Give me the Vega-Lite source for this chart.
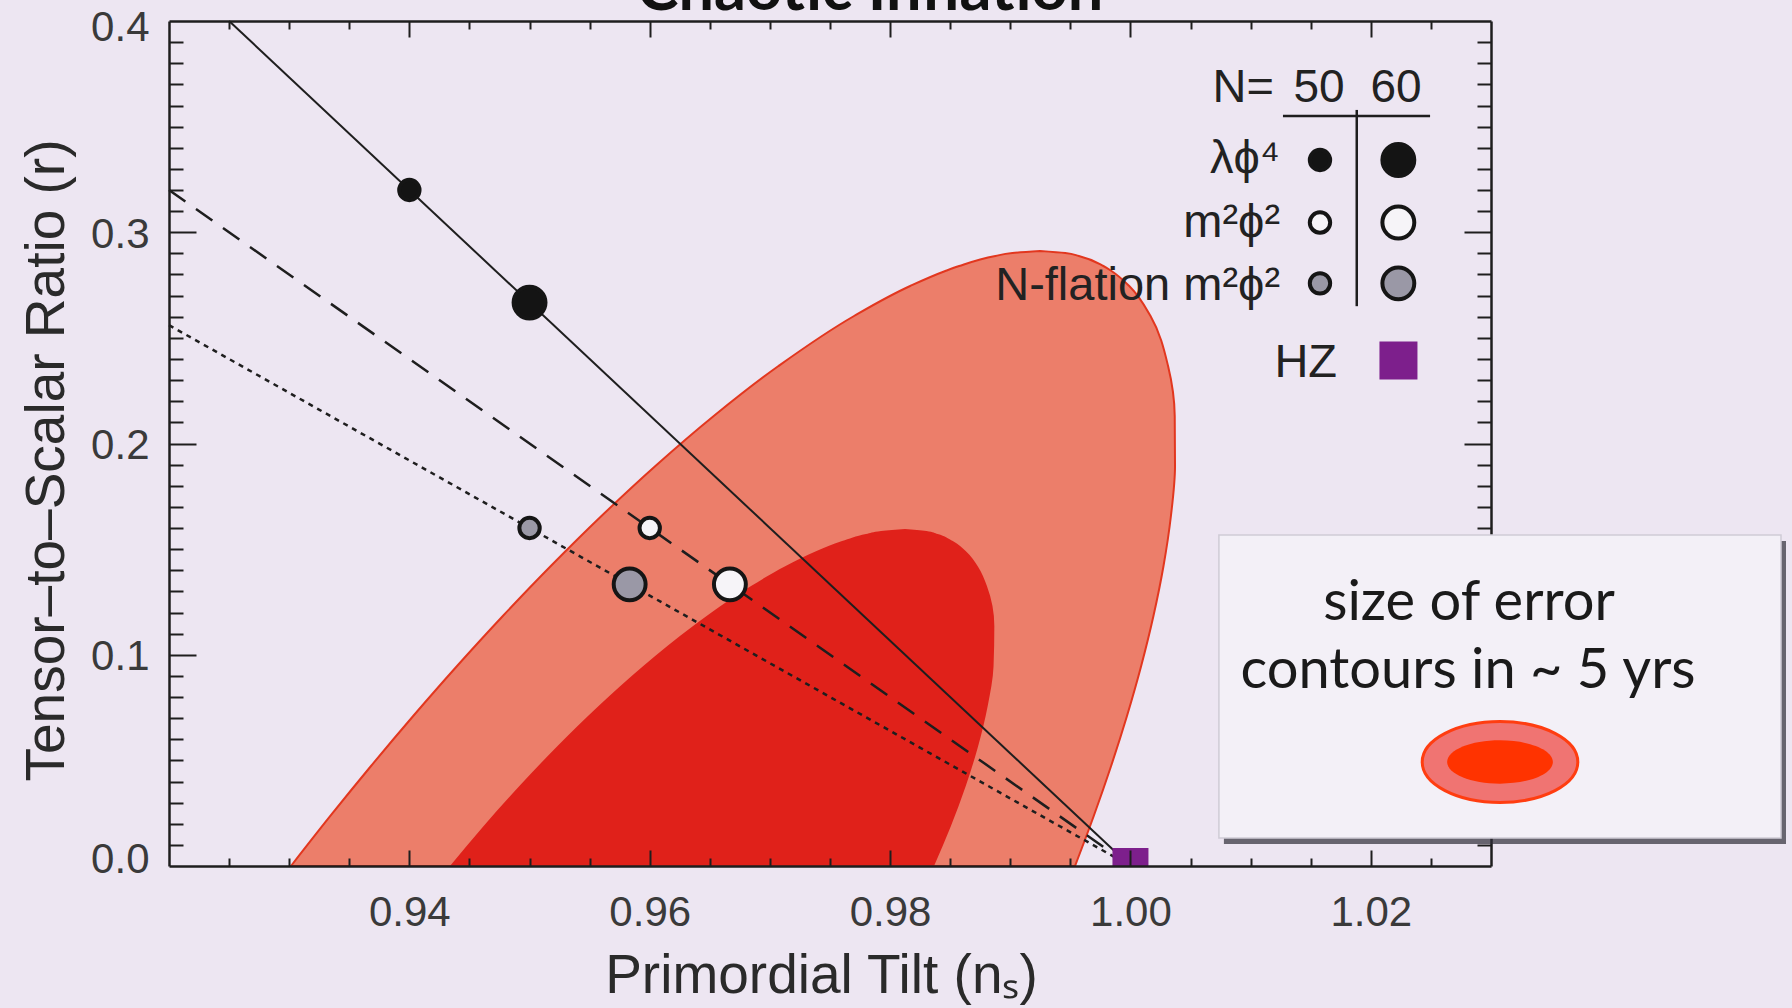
{
  "$schema": "https://vega.github.io/schema/vega-lite/v6.json",
  "width": 1322,
  "height": 845,
  "autosize": {"type": "none"},
  "padding": {"left": 169, "top": 21, "right": 301, "bottom": 142},
  "background": "#EDE6F2",
  "config": {
    "view": {"stroke": null},
    "axis": {"grid": false, "domainColor": "#1e1e1e", "domainWidth": 2.5, "tickColor": "#1e1e1e", "tickWidth": 2, "labelFont": "Liberation Sans", "labelColor": "#3a3a3a", "titleFont": "Liberation Sans", "titleColor": "#2a2a2a", "titleFontWeight": "normal"}
  },
  "datasets": {
    "outer": [
      {"r": 0, "xl": 0.930152, "xr": 0.995387},
      {"r": 0.023669, "xl": 0.933423, "xr": 0.996946},
      {"r": 0.047337, "xl": 0.936809, "xr": 0.99839},
      {"r": 0.071006, "xl": 0.94032, "xr": 0.99971},
      {"r": 0.094675, "xl": 0.943969, "xr": 1.000891},
      {"r": 0.118343, "xl": 0.947778, "xr": 1.001912},
      {"r": 0.142012, "xl": 0.95177, "xr": 1.00275},
      {"r": 0.16568, "xl": 0.955983, "xr": 1.003367},
      {"r": 0.189349, "xl": 0.960472, "xr": 1.003708},
      {"r": 0.213018, "xl": 0.965327, "xr": 1.003684},
      {"r": 0.236686, "xl": 0.970712, "xr": 1.00313},
      {"r": 0.260355, "xl": 0.977002, "xr": 1.00167},
      {"r": 0.274556, "xl": 0.98167, "xr": 0.9999},
      {"r": 0.281657, "xl": 0.984594, "xr": 0.998424},
      {"r": 0.284024, "xl": 0.985754, "xr": 0.997746},
      {"r": 0.288757, "xl": 0.988761, "xr": 0.995707},
      {"r": 0.290178, "xl": 0.990177, "xr": 0.994579},
      {"r": 0.291124, "xl": 0.992475, "xr": 0.992475}
    ],
    "inner": [
      {"r": 0, "xl": 0.943382, "xr": 0.983655},
      {"r": 0.018935, "xl": 0.946181, "xr": 0.985063},
      {"r": 0.03787, "xl": 0.949155, "xr": 0.986297},
      {"r": 0.056804, "xl": 0.952329, "xr": 0.98733},
      {"r": 0.075739, "xl": 0.955744, "xr": 0.988122},
      {"r": 0.094674, "xl": 0.959464, "xr": 0.988609},
      {"r": 0.113609, "xl": 0.963607, "xr": 0.988674},
      {"r": 0.132544, "xl": 0.968433, "xr": 0.988056},
      {"r": 0.142011, "xl": 0.97131, "xr": 0.987281},
      {"r": 0.149112, "xl": 0.973881, "xr": 0.986288},
      {"r": 0.153845, "xl": 0.976006, "xr": 0.985215},
      {"r": 0.157159, "xl": 0.977997, "xr": 0.983961},
      {"r": 0.158579, "xl": 0.979248, "xr": 0.983025},
      {"r": 0.159526, "xl": 0.981242, "xr": 0.981242}
    ],
    "lines": [
      {"model": "lphi4", "ns": 0.925, "r": 0.4},
      {"model": "lphi4", "ns": 1.0, "r": 0.0},
      {"model": "m2phi2", "ns": 0.92, "r": 0.32},
      {"model": "m2phi2", "ns": 1.0, "r": 0.0},
      {"model": "nflation", "ns": 0.92, "r": 0.256},
      {"model": "nflation", "ns": 1.0, "r": 0.0}
    ],
    "points": [
      {"model": "lphi4", "N": "50", "ns": 0.94, "r": 0.32},
      {"model": "lphi4", "N": "60", "ns": 0.95, "r": 0.2667},
      {"model": "m2phi2", "N": "50", "ns": 0.96, "r": 0.16},
      {"model": "m2phi2", "N": "60", "ns": 0.96667, "r": 0.13333},
      {"model": "nflation", "N": "50", "ns": 0.95, "r": 0.16},
      {"model": "nflation", "N": "60", "ns": 0.95833, "r": 0.13333}
    ],
    "hz": [{"ns": 1.0, "r": 0.0}],
    "legendMarkers": [
      {"model": "lphi4", "N": "50", "ns": 1.01577, "r": 0.3342},
      {"model": "lphi4", "N": "60", "ns": 1.02229, "r": 0.3342},
      {"model": "m2phi2", "N": "50", "ns": 1.01577, "r": 0.3046},
      {"model": "m2phi2", "N": "60", "ns": 1.02229, "r": 0.3046},
      {"model": "nflation", "N": "50", "ns": 1.01577, "r": 0.2758},
      {"model": "nflation", "N": "60", "ns": 1.02229, "r": 0.2758}
    ],
    "legendHZ": [{"ns": 1.0223, "r": 0.23929}],
    "legendRules": [
      {"ns": 1.01269, "ns2": 1.02493, "r": 0.35503, "r2": 0.35503},
      {"ns": 1.01883, "ns2": 1.01883, "r": 0.3579, "r2": 0.265}
    ],
    "legendRowLabels": [
      {"label": "λϕ⁴", "ns": 1.01245, "r": 0.3279},
      {"label": "m²ϕ²", "ns": 1.01245, "r": 0.2979},
      {"label": "N-flation m²ϕ²", "ns": 1.01245, "r": 0.26793},
      {"label": "HZ", "ns": 1.01719, "r": 0.23162},
      {"label": "N=", "ns": 1.011945, "r": 0.3618}
    ],
    "legendHeader": [
      {"label": "50", "ns": 1.01569, "r": 0.3618},
      {"label": "60", "ns": 1.0221, "r": 0.3618}
    ],
    "titleText": [{"label": "Chaotic Inflation", "ns": 0.97833, "r": 0.4052}],
    "insetBox": [{"ns": 1.00736, "ns2": 1.05413, "r": 0.15669, "r2": 0.01325}],
    "insetText": [
      {"label": "size of error", "ns": 1.02817, "r": 0.11645},
      {"label": "contours in ~ 5 yrs", "ns": 1.02809, "r": 0.08426}
    ],
    "insetIcon": [{"ns": 1.03075, "r": 0.04923}]
  },
  "resolve": {"axis": {"x": "independent", "y": "independent"}},
  "layer": [
    {
      "data": {"name": "outer"},
      "mark": {"type": "area", "orient": "horizontal", "interpolate": "monotone", "fill": "#EC7E6A", "fillOpacity": 1, "stroke": "#E2371F", "strokeWidth": 2},
      "encoding": {
        "y": {"field": "r", "type": "quantitative", "scale": {"domain": [0, 0.4], "nice": false, "zero": false},
          "axis": {"orient": "left", "values": [0, 0.1, 0.2, 0.3, 0.4], "format": ".1f", "ticks": false, "domain": true, "labelFontSize": 42, "labelPadding": 20, "labelBaseline": "middle", "labelOverlap": false, "labelFlush": false,
            "labelOffset": {"condition": [{"test": "datum.value < 0.01", "value": -7}, {"test": "datum.value > 0.39", "value": 6}], "value": 2},
            "title": "Tensor–to–Scalar Ratio (r)", "titleFontSize": 55, "titleX": -123, "titleY": 439, "titleAngle": -90, "titleAlign": "center", "titleBaseline": "middle", "zindex": 1}},
        "x": {"field": "xl", "type": "quantitative", "scale": {"domain": [0.92, 1.03], "nice": false, "zero": false},
          "axis": {"orient": "bottom", "values": [0.94, 0.96, 0.98, 1.0, 1.02], "format": ".2f", "ticks": false, "domain": true, "labelFontSize": 42, "labelBaseline": "top", "labelPadding": 26, "labelOverlap": false, "labelFlush": false,
            "title": "Primordial Tilt (nₛ)", "titleFontSize": 55, "titleX": 652, "titleY": 126, "titleAlign": "center", "titleBaseline": "alphabetic", "zindex": 1}},
        "x2": {"field": "xr"}
      }
    },
    {
      "data": {"name": "inner"},
      "mark": {"type": "area", "orient": "horizontal", "interpolate": "monotone", "fill": "#E0211A", "fillOpacity": 1},
      "encoding": {
        "y": {"field": "r", "type": "quantitative", "scale": {"domain": [0, 0.4], "nice": false, "zero": false},
          "axis": {"orient": "left", "values": [0.1, 0.2, 0.3], "labels": false, "domain": false, "ticks": true, "tickSize": -27, "title": null, "zindex": 1}},
        "x": {"field": "xl", "type": "quantitative", "scale": {"domain": [0.92, 1.03], "nice": false, "zero": false},
          "axis": {"orient": "bottom", "values": [0.94, 0.96, 0.98, 1.0, 1.02], "labels": false, "domain": false, "ticks": true, "tickSize": -16, "title": null, "zindex": 1}},
        "x2": {"field": "xr"}
      }
    },
    {
      "data": {"name": "lines"},
      "transform": [{"filter": "datum.model === 'lphi4'"}],
      "mark": {"type": "line", "color": "#1e1e1e", "strokeWidth": 2},
      "encoding": {
        "x": {"field": "ns", "type": "quantitative", "scale": {"domain": [0.92, 1.03], "nice": false, "zero": false},
          "axis": {"orient": "bottom", "values": [0.925, 0.93, 0.935, 0.945, 0.95, 0.955, 0.965, 0.97, 0.975, 0.985, 0.99, 0.995, 1.005, 1.01, 1.015, 1.025], "labels": false, "domain": false, "ticks": true, "tickSize": -8, "title": null, "zindex": 1}},
        "y": {"field": "r", "type": "quantitative", "scale": {"domain": [0, 0.4], "nice": false, "zero": false},
          "axis": {"orient": "left", "values": [0.01, 0.02, 0.03, 0.04, 0.05, 0.06, 0.07, 0.08, 0.09, 0.11, 0.12, 0.13, 0.14, 0.15, 0.16, 0.17, 0.18, 0.19, 0.21, 0.22, 0.23, 0.24, 0.25, 0.26, 0.27, 0.28, 0.29, 0.31, 0.32, 0.33, 0.34, 0.35, 0.36, 0.37, 0.38, 0.39], "labels": false, "domain": false, "ticks": true, "tickSize": -14, "title": null, "zindex": 1}}
      }
    },
    {
      "data": {"name": "lines"},
      "transform": [{"filter": "datum.model === 'm2phi2'"}],
      "mark": {"type": "line", "color": "#1e1e1e", "strokeWidth": 2.5, "strokeDash": [20, 13]},
      "encoding": {
        "x": {"field": "ns", "type": "quantitative", "scale": {"domain": [0.92, 1.03], "nice": false, "zero": false},
          "axis": {"orient": "top", "values": [0.94, 0.96, 0.98, 1.0, 1.02], "labels": false, "domain": true, "ticks": true, "tickSize": -16, "title": null, "zindex": 1}},
        "y": {"field": "r", "type": "quantitative", "scale": {"domain": [0, 0.4], "nice": false, "zero": false},
          "axis": {"orient": "right", "values": [0.1, 0.2, 0.3], "labels": false, "domain": true, "ticks": true, "tickSize": -27, "title": null, "zindex": 0}}
      }
    },
    {
      "data": {"name": "lines"},
      "transform": [{"filter": "datum.model === 'nflation'"}],
      "mark": {"type": "line", "color": "#1e1e1e", "strokeWidth": 2.5, "strokeDash": [5, 5]},
      "encoding": {
        "x": {"field": "ns", "type": "quantitative", "scale": {"domain": [0.92, 1.03], "nice": false, "zero": false},
          "axis": {"orient": "top", "values": [0.925, 0.93, 0.935, 0.945, 0.95, 0.955, 0.965, 0.97, 0.975, 0.985, 0.99, 0.995, 1.005, 1.01, 1.015, 1.025], "labels": false, "domain": false, "ticks": true, "tickSize": -8, "title": null, "zindex": 1}},
        "y": {"field": "r", "type": "quantitative", "scale": {"domain": [0, 0.4], "nice": false, "zero": false},
          "axis": {"orient": "right", "values": [0.01, 0.02, 0.03, 0.04, 0.05, 0.06, 0.07, 0.08, 0.09, 0.11, 0.12, 0.13, 0.14, 0.15, 0.16, 0.17, 0.18, 0.19, 0.21, 0.22, 0.23, 0.24, 0.25, 0.26, 0.27, 0.28, 0.29, 0.31, 0.32, 0.33, 0.34, 0.35, 0.36, 0.37, 0.38, 0.39], "labels": false, "domain": false, "ticks": true, "tickSize": -14, "title": null, "zindex": 0}}
      }
    },
    {
      "data": {"name": "points"},
      "mark": {"type": "point", "shape": "circle", "filled": true, "stroke": "#151515", "strokeWidth": 4, "opacity": 1},
      "encoding": {
        "x": {"field": "ns", "type": "quantitative", "scale": {"domain": [0.92, 1.03], "nice": false, "zero": false}, "axis": null},
        "y": {"field": "r", "type": "quantitative", "scale": {"domain": [0, 0.4], "nice": false, "zero": false}, "axis": null},
        "fill": {"field": "model", "type": "nominal", "scale": {"domain": ["lphi4", "m2phi2", "nflation"], "range": ["#141414", "#F6F4F8", "#9A98A6"]}, "legend": null},
        "size": {"field": "N", "type": "ordinal", "scale": {"domain": ["50", "60"], "range": [415, 1018]}, "legend": null}
      }
    },
    {
      "data": {"name": "hz"},
      "mark": {"type": "point", "shape": "square", "filled": true, "fill": "#7D1F8C", "size": 1296, "opacity": 1, "clip": true},
      "encoding": {
        "x": {"field": "ns", "type": "quantitative", "scale": {"domain": [0.92, 1.03], "nice": false, "zero": false}, "axis": null},
        "y": {"field": "r", "type": "quantitative", "scale": {"domain": [0, 0.4], "nice": false, "zero": false}, "axis": null}
      }
    },
    {
      "data": {"name": "legendRules"},
      "mark": {"type": "rule", "color": "#1e1e1e", "strokeWidth": 2.5},
      "encoding": {
        "x": {"field": "ns", "type": "quantitative", "scale": {"domain": [0.92, 1.03], "nice": false, "zero": false}, "axis": null},
        "x2": {"field": "ns2"},
        "y": {"field": "r", "type": "quantitative", "scale": {"domain": [0, 0.4], "nice": false, "zero": false}, "axis": null},
        "y2": {"field": "r2"}
      }
    },
    {
      "data": {"name": "legendMarkers"},
      "mark": {"type": "point", "shape": "circle", "filled": true, "stroke": "#151515", "strokeWidth": 4, "opacity": 1},
      "encoding": {
        "x": {"field": "ns", "type": "quantitative", "scale": {"domain": [0.92, 1.03], "nice": false, "zero": false}, "axis": null},
        "y": {"field": "r", "type": "quantitative", "scale": {"domain": [0, 0.4], "nice": false, "zero": false}, "axis": null},
        "fill": {"field": "model", "type": "nominal", "scale": {"domain": ["lphi4", "m2phi2", "nflation"], "range": ["#141414", "#F6F4F8", "#9A98A6"]}, "legend": null},
        "size": {"field": "N", "type": "ordinal", "scale": {"domain": ["50", "60"], "range": [415, 1018]}, "legend": null}
      }
    },
    {
      "data": {"name": "legendHZ"},
      "mark": {"type": "point", "shape": "square", "filled": true, "fill": "#7D1F8C", "size": 1444, "opacity": 1},
      "encoding": {
        "x": {"field": "ns", "type": "quantitative", "scale": {"domain": [0.92, 1.03], "nice": false, "zero": false}, "axis": null},
        "y": {"field": "r", "type": "quantitative", "scale": {"domain": [0, 0.4], "nice": false, "zero": false}, "axis": null}
      }
    },
    {
      "data": {"name": "legendRowLabels"},
      "mark": {"type": "text", "align": "right", "baseline": "alphabetic", "font": "Liberation Sans", "fontSize": 47, "color": "#222222"},
      "encoding": {
        "x": {"field": "ns", "type": "quantitative", "scale": {"domain": [0.92, 1.03], "nice": false, "zero": false}, "axis": null},
        "y": {"field": "r", "type": "quantitative", "scale": {"domain": [0, 0.4], "nice": false, "zero": false}, "axis": null},
        "text": {"field": "label"}
      }
    },
    {
      "data": {"name": "legendHeader"},
      "mark": {"type": "text", "align": "center", "baseline": "alphabetic", "font": "Liberation Sans", "fontSize": 46, "color": "#222222"},
      "encoding": {
        "x": {"field": "ns", "type": "quantitative", "scale": {"domain": [0.92, 1.03], "nice": false, "zero": false}, "axis": null},
        "y": {"field": "r", "type": "quantitative", "scale": {"domain": [0, 0.4], "nice": false, "zero": false}, "axis": null},
        "text": {"field": "label"}
      }
    },
    {
      "data": {"name": "titleText"},
      "mark": {"type": "text", "align": "center", "baseline": "alphabetic", "font": "Lato", "fontWeight": "bold", "fontSize": 63, "color": "#111111"},
      "encoding": {
        "x": {"field": "ns", "type": "quantitative", "scale": {"domain": [0.92, 1.03], "nice": false, "zero": false}, "axis": null},
        "y": {"field": "r", "type": "quantitative", "scale": {"domain": [0, 0.4], "nice": false, "zero": false}, "axis": null},
        "text": {"field": "label"}
      }
    },
    {
      "data": {"name": "insetBox"},
      "mark": {"type": "rect", "fill": "#2e2c38", "opacity": 0.7, "xOffset": 5, "x2Offset": 5, "yOffset": 6, "y2Offset": 6},
      "encoding": {
        "x": {"field": "ns", "type": "quantitative", "scale": {"domain": [0.92, 1.03], "nice": false, "zero": false}, "axis": null},
        "x2": {"field": "ns2"},
        "y": {"field": "r", "type": "quantitative", "scale": {"domain": [0, 0.4], "nice": false, "zero": false}, "axis": null},
        "y2": {"field": "r2"}
      }
    },
    {
      "data": {"name": "insetBox"},
      "mark": {"type": "rect", "fill": "#F3F0F7", "stroke": "#cfcbd6", "strokeWidth": 1.5, "opacity": 1},
      "encoding": {
        "x": {"field": "ns", "type": "quantitative", "scale": {"domain": [0.92, 1.03], "nice": false, "zero": false}, "axis": null},
        "x2": {"field": "ns2"},
        "y": {"field": "r", "type": "quantitative", "scale": {"domain": [0, 0.4], "nice": false, "zero": false}, "axis": null},
        "y2": {"field": "r2"}
      }
    },
    {
      "data": {"name": "insetText"},
      "mark": {"type": "text", "align": "center", "baseline": "alphabetic", "font": "Lato", "fontSize": 56, "color": "#1a1a1a"},
      "encoding": {
        "x": {"field": "ns", "type": "quantitative", "scale": {"domain": [0.92, 1.03], "nice": false, "zero": false}, "axis": null},
        "y": {"field": "r", "type": "quantitative", "scale": {"domain": [0, 0.4], "nice": false, "zero": false}, "axis": null},
        "text": {"field": "label"}
      }
    },
    {
      "data": {"name": "insetIcon"},
      "mark": {"type": "point", "shape": "M-1,0A1,0.52,0,1,0,1,0A1,0.52,0,1,0,-1,0Z", "size": 24211, "filled": true, "fill": "#F07472", "stroke": "#FF3D10", "strokeWidth": 3, "opacity": 1},
      "encoding": {
        "x": {"field": "ns", "type": "quantitative", "scale": {"domain": [0.92, 1.03], "nice": false, "zero": false}, "axis": null},
        "y": {"field": "r", "type": "quantitative", "scale": {"domain": [0, 0.4], "nice": false, "zero": false}, "axis": null}
      }
    },
    {
      "data": {"name": "insetIcon"},
      "mark": {"type": "point", "shape": "M-1,0A1,0.41,0,1,0,1,0A1,0.41,0,1,0,-1,0Z", "size": 11173, "filled": true, "fill": "#FF3300", "strokeWidth": 0, "opacity": 1},
      "encoding": {
        "x": {"field": "ns", "type": "quantitative", "scale": {"domain": [0.92, 1.03], "nice": false, "zero": false}, "axis": null},
        "y": {"field": "r", "type": "quantitative", "scale": {"domain": [0, 0.4], "nice": false, "zero": false}, "axis": null}
      }
    }
  ]
}
